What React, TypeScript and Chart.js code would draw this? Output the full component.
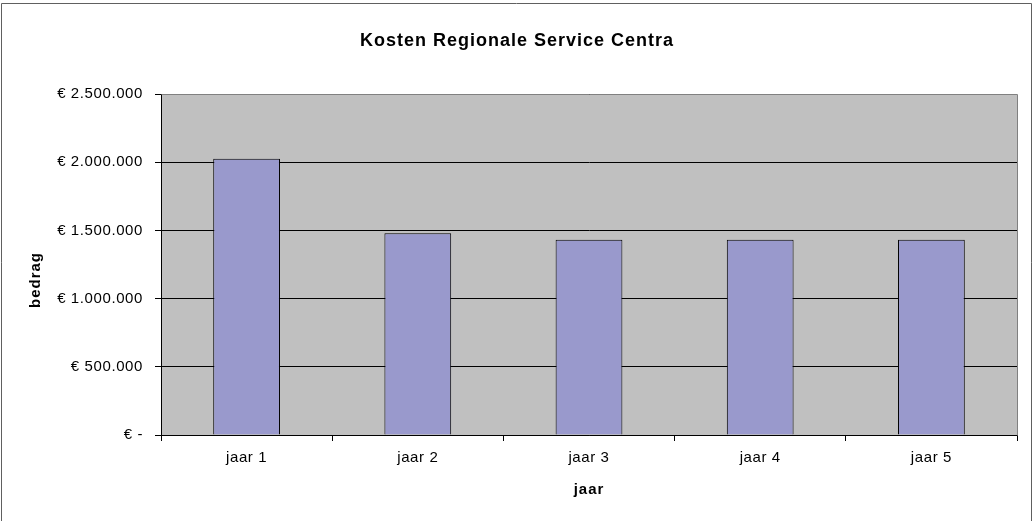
import React, { useEffect, useRef } from "react";
import { Chart, registerables } from "chart.js";

Chart.register(...registerables);

const chartTitle = "Kosten Regionale Service Centra";
const xAxisTitle = "jaar";
const yAxisTitle = "bedrag";
const categories = ["jaar 1", "jaar 2", "jaar 3", "jaar 4", "jaar 5"];
const costs = [2025000, 1480000, 1432000, 1432000, 1432000];
const yMin = 0;
const yMax = 2500000;
const yStep = 500000;

function formatEuro(v: number): string {
  if (v === 0) return "€ -";
  return "€ " + Math.round(v).toString().replace(/\B(?=(\d{3})+(?!\d))/g, ".");
}

const FONT = "'Liberation Sans', Arial, sans-serif";

const decorPlugin = {
  id: "decor",
  beforeDraw(chart: any) {
    const { ctx, chartArea } = chart;
    ctx.save();
    ctx.fillStyle = "#ffffff";
    ctx.fillRect(0, 0, chart.width, chart.height);
    ctx.fillStyle = "#C0C0C0";
    ctx.fillRect(chartArea.left, chartArea.top, chartArea.right - chartArea.left, chartArea.bottom - chartArea.top);
    ctx.restore();
    (ctx as any).letterSpacing = "0.6px";
  },
  afterDraw(chart: any) {
    const { ctx, chartArea } = chart;
    ctx.save();
    // plot area border (top and right)
    ctx.strokeStyle = "#808080";
    ctx.lineWidth = 1;
    ctx.beginPath();
    ctx.moveTo(Math.round(chartArea.left) + 0.5, Math.round(chartArea.top) + 0.5);
    ctx.lineTo(Math.round(chartArea.right) + 0.5, Math.round(chartArea.top) + 0.5);
    ctx.lineTo(Math.round(chartArea.right) + 0.5, Math.round(chartArea.bottom) + 0.5);
    ctx.stroke();
    // outer border
    ctx.strokeStyle = "#606060";
    ctx.beginPath();
    ctx.moveTo(1.5, chart.height + 5);
    ctx.lineTo(1.5, 3.5);
    ctx.lineTo(1031.5, 3.5);
    ctx.lineTo(1031.5, chart.height + 5);
    ctx.stroke();
    // titles
    ctx.fillStyle = "#000000";
    (ctx as any).letterSpacing = "1px";
    ctx.font = "bold 18px " + FONT;
    ctx.textAlign = "center";
    ctx.textBaseline = "alphabetic";
    ctx.fillText(chartTitle, 517, 46);
    ctx.font = "bold 15px " + FONT;
    ctx.fillText(xAxisTitle, (chartArea.left + chartArea.right) / 2, 494);
    ctx.translate(40, 280);
    ctx.rotate(-Math.PI / 2);
    ctx.fillText(yAxisTitle, 0, 0);
    ctx.restore();
  },
};

export default function App() {
  const canvasRef = useRef<HTMLCanvasElement | null>(null);

  useEffect(() => {
    if (!canvasRef.current) return;
    const chart = new Chart(canvasRef.current, {
      type: "bar",
      data: {
        labels: categories,
        datasets: [
          {
            data: costs,
            backgroundColor: "#9999CC",
            borderColor: "#000000",
            borderWidth: 1,
            categoryPercentage: 1,
            barPercentage: 0.39,
          },
        ],
      },
      options: {
        responsive: false,
        animation: false,
        devicePixelRatio: 1,
        layout: { padding: { top: 94, right: 16, left: 0, bottom: 0 } },
        plugins: {
          legend: { display: false },
          title: { display: false },
          tooltip: { enabled: false },
        },
        scales: {
          x: {
            offset: true,
            afterFit: (s: any) => {
              s.height = 86;
            },
            grid: {
              offset: true,
              drawOnChartArea: false,
              drawTicks: true,
              tickLength: 6,
              color: "#000000",
            },
            border: { color: "#000000", width: 1 },
            ticks: {
              color: "#000000",
              padding: 8,
              font: { family: FONT, size: 15 },
            },
          },
          y: {
            min: yMin,
            max: yMax,
            afterFit: (s: any) => {
              s.width = 161;
            },
            grid: {
              color: "#000000",
              lineWidth: 1,
              drawTicks: true,
              tickLength: 6,
            },
            border: { color: "#000000", width: 1 },
            ticks: {
              stepSize: yStep,
              color: "#000000",
              padding: 12,
              font: { family: FONT, size: 15 },
              callback: (v: any) => formatEuro(Number(v)),
            },
          },
        },
      },
      plugins: [decorPlugin],
    });
    return () => chart.destroy();
  }, []);

  return (
    <div style={{ position: "fixed", left: 0, top: 0, width: 1033, height: 521, background: "#fff" }}>
      <canvas ref={canvasRef} width={1033} height={521} style={{ display: "block" }} />
    </div>
  );
}
